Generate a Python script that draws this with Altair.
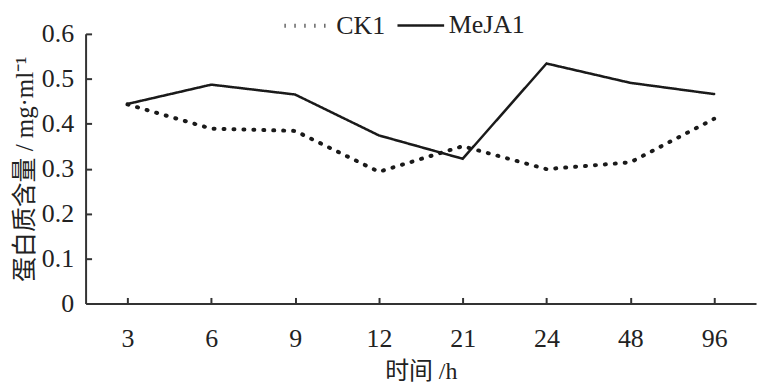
import altair as alt
import pandas as pd

times = ["3", "6", "9", "12", "21", "24", "48", "96"]
ck1 = [0.443, 0.389, 0.384, 0.293, 0.350, 0.299, 0.314, 0.411]
meja1 = [0.444, 0.487, 0.465, 0.374, 0.322, 0.534, 0.491, 0.466]
series_names = ["CK1", "MeJA1"]

rows = []
for t, v in zip(times, ck1):
    rows.append({"time": t, "series": "CK1", "value": v})
for t, v in zip(times, meja1):
    rows.append({"time": t, "series": "MeJA1", "value": v})
df = pd.DataFrame(rows)

SERIF = "'Liberation Serif', 'Times New Roman', Times, serif"
MIXED = "'Liberation Serif', 'Noto Sans CJK SC', serif"
AX = "#333333"

xscale = alt.Scale(type="point", padding=0.5)
yscale = alt.Scale(domain=[0, 0.6])

lines = alt.Chart(df).mark_line(strokeCap="round", color="#1a1a1a").encode(
    x=alt.X("time:N", sort=times, scale=xscale,
            axis=alt.Axis(title="时间 /h", ticks=False, tickSize=0, labelAngle=0,
                          labelFont=SERIF, labelFontSize=26, labelColor="#222",
                          labelPadding=22, domainColor=AX, domainWidth=2,
                          titleFont=MIXED, titleFontSize=24, titleFontWeight="normal",
                          titleColor="#222", titlePadding=8, grid=False)),
    y=alt.Y("value:Q", scale=yscale,
            axis=alt.Axis(title="蛋白质含量 / mg·ml⁻¹", values=[0, 0.1, 0.2, 0.3, 0.4, 0.5, 0.6],
                          format=".1~f", ticks=False, tickSize=0,
                          labelFont=SERIF, labelFontSize=26, labelColor="#222",
                          labelPadding=12, domainColor=AX, domainWidth=2,
                          titleFont=MIXED, titleFontSize=25, titleFontWeight="normal",
                          titleColor="#222", titlePadding=4, grid=False)),
    strokeDash=alt.StrokeDash("series:N",
                              scale=alt.Scale(domain=series_names, range=[[1, 9], [1, 0]]),
                              legend=alt.Legend(title=None, orient="none", direction="horizontal",
                                                legendX=198, legendY=-34,
                                                labelFont=SERIF, labelFontSize=26,
                                                labelColor="#222",
                                                symbolType="stroke", symbolSize=2200,
                                                symbolStrokeWidth=4, symbolStrokeColor="#1a1a1a",
                                                labelOffset=3, columnPadding=6)),
    strokeWidth=alt.StrokeWidth("series:N",
                                scale=alt.Scale(domain=series_names, range=[4, 2.5]),
                                legend=None),
)

ticks = alt.Chart(df).mark_line(opacity=0).encode(
    x=alt.X("time:N", sort=times, scale=xscale,
            axis=alt.Axis(orient="bottom", title=None, labels=False, domain=False,
                          ticks=True, tickSize=6, tickWidth=2, tickColor=AX,
                          offset=-6, grid=False)),
    y=alt.Y("value:Q", scale=yscale,
            axis=alt.Axis(orient="left", title=None, labels=False, domain=False,
                          values=[0.1, 0.2, 0.3, 0.4, 0.5, 0.6],
                          ticks=True, tickSize=6, tickWidth=2, tickColor=AX,
                          offset=-6, grid=False)),
)

chart = alt.layer(lines, ticks).resolve_axis(x="independent", y="independent").properties(
    width=674, height=271,
    autosize=alt.AutoSizeParams(type="none"),
    padding={"left": 78, "top": 25, "right": 5, "bottom": 83},
    background="white",
).configure_view(stroke=None)

chart.save("out.html", embed_options={"renderer": "svg", "actions": False})
